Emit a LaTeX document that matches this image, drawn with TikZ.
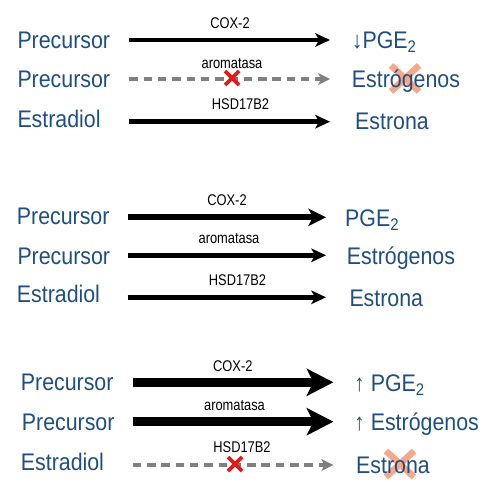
\documentclass[tikz,border=0pt]{standalone}
\usepackage{fontspec}
\setmainfont{Liberation Sans}[FakeStretch=0.89]
\newfontfamily\enzfont{Liberation Sans}[FakeStretch=0.83]
\usetikzlibrary{arrows.meta, positioning, backgrounds}

\definecolor{azul}{HTML}{1F4E7F}
\definecolor{gris}{HTML}{808080}
\definecolor{rojo}{HTML}{E3191C}
\definecolor{salmon}{HTML}{F6A88A}

\tikzset{
    sustrato/.style={anchor=base west, inner sep=0pt, text=azul, font=\fontsize{24}{28}\selectfont},
    enzima/.style={anchor=base, inner sep=0pt, font=\enzfont\fontsize{15.5}{18}\selectfont},
    flecha/.style={draw, line width=4.5pt, -{Stealth[length=15pt, width=14pt, inset=4pt, line width=0pt]}},
    gruesa/.style={draw, line width=6pt, -{Stealth[length=18pt, width=18pt, inset=5pt, line width=0pt]}},
    muygruesa/.style={draw, line width=9pt, -{Stealth[length=27pt, width=28pt, inset=7pt, line width=0pt]}},
    bloqueada/.style={draw=gris, line width=3.8pt, dash pattern=on 8.5pt off 5.8pt,
        -{Stealth[length=12pt, width=12pt, inset=3pt, line width=0pt, fill=gris]}},
    cruz/.style={draw=rojo, line width=3.6pt},
    tachado/.style={draw=salmon, line width=6.5pt}
}

\begin{document}
\begin{tikzpicture}[x=1pt, y=-1pt]
    \useasboundingbox (0,0) rectangle (499,495);

    % Nodes for the first group
    \node[sustrato] (pre1) at (17.3,48.3) {Precursor};
    \node[sustrato] (pge1) at (351.7,48.3) {↓PGE\textsubscript{2}};
    \node[sustrato] (pre2) at (17.3,87.3) {Precursor};
    \node[sustrato] (estr1) at (351.7,87.3) {Estrógenos};
    \node[sustrato] (estd1) at (17.3,127.7) {Estradiol};
    \node[sustrato] (estn1) at (355,129.3) {Estrona};

    \node[enzima] (cox1) at (230,28.3) {COX-2};
    \node[enzima] (aro1) at (232,68.3) {aromatasa};
    \node[enzima] (hsd1) at (240.5,110) {HSD17B2};

    % Nodes for the second group
    \node[sustrato] (pre3) at (16.7,225) {Precursor};
    \node[sustrato] (pge2) at (345,226.7) {PGE\textsubscript{2}};
    \node[sustrato] (pre4) at (17.3,264.3) {Precursor};
    \node[sustrato] (estr2) at (346.7,264.3) {Estrógenos};
    \node[sustrato] (estd2) at (16.7,302.7) {Estradiol};
    \node[sustrato] (estn2) at (349.3,306) {Estrona};

    \node[enzima] (cox2) at (227,205) {COX-2};
    \node[enzima] (aro2) at (229,243.3) {aromatasa};
    \node[enzima] (hsd2) at (237.5,285) {HSD17B2};

    % Nodes for the third group
    \node[sustrato] (pre5) at (20.7,390.7) {Precursor};
    \node[sustrato] (pge3) at (354,391.7) {↑ PGE\textsubscript{2}};
    \node[sustrato] (pre6) at (21.7,430.7) {Precursor};
    \node[sustrato] (estr3) at (354,430.7) {↑ Estrógenos};
    \node[sustrato] (estd3) at (20.7,470) {Estradiol};
    \node[sustrato] (estn3) at (356,473.3) {Estrona};

    \node[enzima] (cox3) at (232.8,371) {COX-2};
    \node[enzima] (aro3) at (234.5,410) {aromatasa};
    \node[enzima] (hsd3) at (242,452.7) {HSD17B2};

    % Arrow ends
    \coordinate (i1) at (129.3,40);    \coordinate (f1) at (330,40);
    \coordinate (i2) at (129.3,79);    \coordinate (f2) at (330,79);
    \coordinate (i3) at (129.3,121.7); \coordinate (f3) at (330,121.7);
    \coordinate (i4) at (127.7,217.3); \coordinate (f4) at (326,217.3);
    \coordinate (i5) at (127.7,255.3); \coordinate (f5) at (326,255.3);
    \coordinate (i6) at (127.7,297.3); \coordinate (f6) at (326,297.3);
    \coordinate (i7) at (132.7,382.3); \coordinate (f7) at (333.3,382.3);
    \coordinate (i8) at (132.7,421.7); \coordinate (f8) at (333.3,421.7);
    \coordinate (i9) at (132.7,465);   \coordinate (f9) at (333.3,465);

    % Arrows
    \draw[flecha] (i1) -- (f1);
    \draw[bloqueada] (i2) -- (f2);
    \draw[flecha] (i3) -- (f3);
    \draw[gruesa] (i4) -- (f4);
    \draw[flecha] (i5) -- (f5);
    \draw[flecha] (i6) -- (f6);
    \draw[muygruesa] (i7) -- (f7);
    \draw[muygruesa] (i8) -- (f8);
    \draw[bloqueada] (i9) -- (f9);

    % Blocked steps
    \coordinate (bloq1) at (232,78);
    \coordinate (bloq2) at (235,464);
    \draw[cruz] ([shift={(-7,-7)}]bloq1) -- ([shift={(7,7)}]bloq1)
                ([shift={(-7,7)}]bloq1) -- ([shift={(7,-7)}]bloq1);
    \draw[cruz] ([shift={(-7,-7)}]bloq2) -- ([shift={(7,7)}]bloq2)
                ([shift={(-7,7)}]bloq2) -- ([shift={(7,-7)}]bloq2);

    % Crossed-out products
    \begin{scope}[on background layer]
        \coordinate (tach1) at (405,78.5);
        \coordinate (tach2) at (400,464);
        \draw[tachado] ([shift={(-14,-13)}]tach1) -- ([shift={(14,13)}]tach1)
                       ([shift={(-14,13)}]tach1) -- ([shift={(14,-13)}]tach1);
        \draw[tachado] ([shift={(-14,-13)}]tach2) -- ([shift={(14,13)}]tach2)
                       ([shift={(-14,13)}]tach2) -- ([shift={(14,-13)}]tach2);
    \end{scope}
\end{tikzpicture}
\end{document}
